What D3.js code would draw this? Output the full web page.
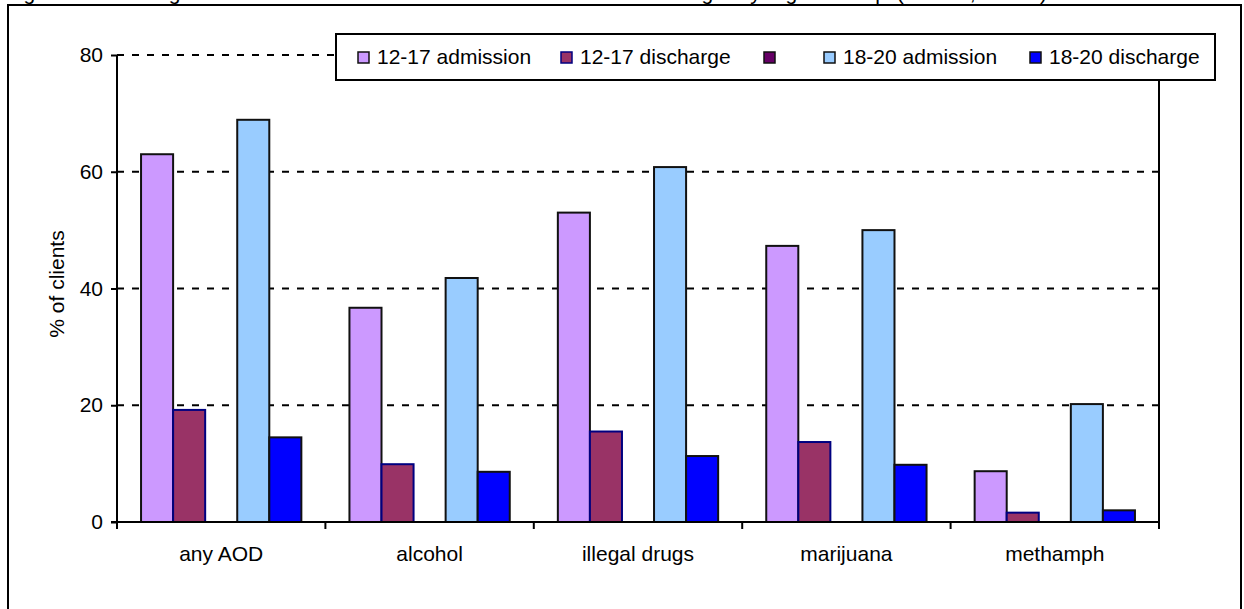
<!DOCTYPE html>
<html>
<head>
<meta charset="utf-8">
<script src="https://cdn.jsdelivr.net/npm/d3@7"></script>
<style>
  html, body { margin: 0; padding: 0; background: #fff; }
  svg { display: block; font-family: "Liberation Sans", Arial, sans-serif; }
</style>
</head>
<body>
<div id="chart"></div>
<script>
// data
const categories = ['any AOD', 'alcohol', 'illegal drugs', 'marijuana', 'methamph'];
const seriesNames = ['12-17 admission', '12-17 discharge', '', '18-20 admission', '18-20 discharge'];
const adm1217 = [63.0, 36.7, 53.0, 47.3, 8.7];
const dis1217 = [19.2, 9.9, 15.5, 13.7, 1.6];
const blankSeries = [null, null, null, null, null];
const adm1820 = [68.9, 41.8, 60.8, 50.0, 20.2];
const dis1820 = [14.5, 8.6, 11.3, 9.8, 2.0];
const yTicks = [0, 20, 40, 60, 80];

const seriesValues = [adm1217, dis1217, blankSeries, adm1820, dis1820];
const fills = ['#CC99FF', '#993366', '#660066', '#99CCFF', '#0000FF'];
const strokes = ['#111', '#000080', '#111', '#111', '#111'];

const width = 1244, height = 609;
const plot = { left: 117, right: 1159, top: 55, bottom: 522 };
const fontSize = 21;

const svg = d3.select('#chart').append('svg')
    .attr('width', width)
    .attr('height', height);

// title, clipped by the top edge as in the original
svg.append('text')
    .attr('x', 2)
    .attr('y', 0)
    .attr('font-size', fontSize)
    .attr('textLength', 1045)
    .attr('lengthAdjust', 'spacing')
    .text('Figure 8. Change in Substance Use from Admission to Discharge by Age Group (TEDS, 2004)');

// outer chart border
svg.append('rect')
    .attr('x', 8).attr('y', 5)
    .attr('width', 1233).attr('height', 620)
    .attr('fill', 'none')
    .attr('stroke', '#000')
    .attr('stroke-width', 2);

const x0 = d3.scaleBand()
    .domain(categories)
    .range([plot.left, plot.right])
    .padding(0);

// Excel gap width 150%: 5 bars + 1.5 bar of gap per category
const barW = x0.bandwidth() / 6.5;
const x1 = d3.scaleBand()
    .domain(d3.range(seriesNames.length))
    .range([barW * 0.75, x0.bandwidth() - barW * 0.75])
    .padding(0);

const y = d3.scaleLinear()
    .domain([0, 80])
    .range([plot.bottom, plot.top]);

// gridlines
svg.append('g')
    .selectAll('line')
    .data(yTicks.filter(d => d > 0))
    .join('line')
    .attr('x1', plot.left)
    .attr('x2', plot.right)
    .attr('y1', d => y(d))
    .attr('y2', d => y(d))
    .attr('stroke', '#000')
    .attr('stroke-width', 2)
    .attr('stroke-dasharray', '7,8');

// right edge of plot area
svg.append('line')
    .attr('x1', plot.right).attr('x2', plot.right)
    .attr('y1', plot.top).attr('y2', plot.bottom)
    .attr('stroke', '#000')
    .attr('stroke-width', 2);

// bars
const groups = svg.append('g')
    .selectAll('g')
    .data(categories)
    .join('g')
    .attr('transform', d => `translate(${x0(d)},0)`);

groups.selectAll('rect')
    .data((d, i) => seriesValues.map((vals, s) => ({ s, v: vals[i] })).filter(e => e.v != null))
    .join('rect')
    .attr('x', d => x1(d.s))
    .attr('width', x1.bandwidth())
    .attr('y', d => y(d.v))
    .attr('height', d => y(0) - y(d.v))
    .attr('fill', d => fills[d.s])
    .attr('stroke', d => strokes[d.s])
    .attr('stroke-width', 2);

// y axis
const yAxis = svg.append('g')
    .attr('transform', `translate(${plot.left},0)`)
    .call(d3.axisLeft(y).tickValues(yTicks).tickSize(6).tickPadding(8));
yAxis.select('.domain').attr('stroke-width', 2).attr('d', `M0,${plot.top}V${plot.bottom}`);
yAxis.selectAll('.tick line').attr('stroke-width', 2);
yAxis.selectAll('.tick text')
    .attr('font-size', fontSize)
    .attr('font-family', '"Liberation Sans", Arial, sans-serif')
    .attr('fill', '#000');

// x axis with ticks between categories
const xAxis = svg.append('g')
    .attr('transform', `translate(0,${plot.bottom})`);
xAxis.append('line')
    .attr('x1', plot.left - 6).attr('x2', plot.right)
    .attr('stroke', '#000').attr('stroke-width', 2);
xAxis.selectAll('line.sep')
    .data(categories.map(c => x0(c)).concat([plot.right]))
    .join('line')
    .attr('class', 'sep')
    .attr('x1', d => d).attr('x2', d => d)
    .attr('y1', 0).attr('y2', 7)
    .attr('stroke', '#000').attr('stroke-width', 2);
xAxis.selectAll('text')
    .data(categories)
    .join('text')
    .attr('x', d => x0(d) + x0.bandwidth() / 2)
    .attr('y', 39)
    .attr('text-anchor', 'middle')
    .attr('font-size', fontSize)
    .text(d => d);

// y axis title
svg.append('text')
    .attr('transform', `translate(64,284) rotate(-90)`)
    .attr('text-anchor', 'middle')
    .attr('font-size', fontSize)
    .text('% of clients');

// legend
const legendX = [358, 561, 764, 824, 1030];
const legend = svg.append('g');
legend.append('rect')
    .attr('x', 336).attr('y', 34)
    .attr('width', 879).attr('height', 46)
    .attr('fill', '#fff')
    .attr('stroke', '#000')
    .attr('stroke-width', 2);
const items = legend.selectAll('g.item')
    .data(seriesNames)
    .join('g')
    .attr('class', 'item')
    .attr('transform', (d, i) => `translate(${legendX[i]},57)`);
items.append('rect')
    .attr('x', 0).attr('y', -5)
    .attr('width', 11).attr('height', 11)
    .attr('fill', (d, i) => fills[i])
    .attr('stroke', (d, i) => strokes[i])
    .attr('stroke-width', 1.5);
items.append('text')
    .attr('x', 19)
    .attr('y', 7)
    .attr('font-size', fontSize)
    .text(d => d);
</script>
</body>
</html>
